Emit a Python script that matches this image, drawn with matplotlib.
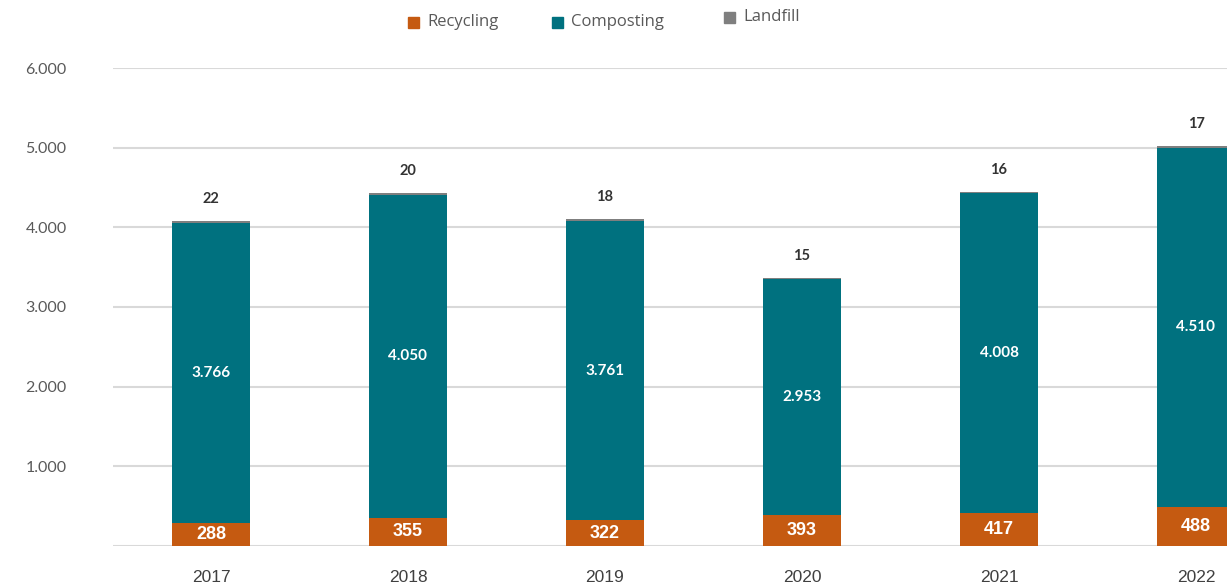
import matplotlib.pyplot as plt
from matplotlib.patches import Rectangle

years = ['2017', '2018', '2019', '2020', '2021', '2022']
recycling = [288, 355, 322, 393, 417, 488]
composting = [3766, 4050, 3761, 2953, 4008, 4510]
landfill = [22, 20, 18, 15, 16, 17]

c_rec = '#C55A11'
c_comp = '#00717F'
c_land = '#7F7F7F'


def fmt(v):
    # thousands separator with a dot
    return f"{v:,}".replace(',', '.')


fig = plt.figure(figsize=(12.27, 5.87), dpi=100)
# axes run past the right edge so the last bar is cut off
ax = fig.add_axes([112.5 / 1227, 41 / 587, 1182 / 1227, 478 / 587])

x = list(range(len(years)))
w = 0.4
bot2 = [r + c for r, c in zip(recycling, composting)]
ax.bar(x, recycling, w, color=c_rec, zorder=3)
ax.bar(x, composting, w, bottom=recycling, color=c_comp, zorder=3)
ax.bar(x, landfill, w, bottom=bot2, color=c_land, zorder=3)

for i in x:
    ax.text(i, recycling[i] / 2, fmt(recycling[i]), ha='center', va='center',
            color='white', fontsize=13, fontweight='bold',
            family='Liberation Sans', zorder=4)
    ax.text(i, recycling[i] + composting[i] / 2, fmt(composting[i]),
            ha='center', va='center', color='white', fontsize=11,
            fontweight='bold', family='Lato', zorder=4)
    ax.annotate(fmt(landfill[i]), (i, bot2[i] + landfill[i]),
                xytext=(0, 11), textcoords='offset points', ha='center',
                va='bottom', color='#333333', fontsize=10.5, fontweight='bold',
                family='Lato', annotation_clip=False)

ax.set_xlim(-0.5, 5.5)
ax.set_ylim(0, 6000)
ax.set_yticks(range(0, 6001, 1000))
ax.set_yticklabels([''] + [fmt(v) for v in range(1000, 6001, 1000)])
ax.set_xticks(x)
ax.set_xticklabels(years)
ax.yaxis.grid(True, color='#d9d9d9', linewidth=1.5, zorder=0)
ax.tick_params(length=0)
ax.tick_params(axis='y', pad=33, labelsize=11.5, labelcolor='#595959')
ax.tick_params(axis='x', pad=17, labelsize=12.5, labelcolor='#404040')
for lbl in ax.get_yticklabels():
    lbl.set_family('Lato')
for lbl in ax.get_xticklabels():
    lbl.set_family('Liberation Sans')
for s in ax.spines.values():
    s.set_visible(False)

# legend drawn along the top of the figure
legend_items = [('Recycling', c_rec, 408, 22), ('Composting', c_comp, 552, 22),
                ('Landfill', c_land, 724, 17)]
for name, col, px, py in legend_items:
    fig.patches.append(Rectangle((px / 1227, (587 - py - 6) / 587), 11 / 1227, 11 / 587,
                                 transform=fig.transFigure, color=col))
    fig.text((px + 19) / 1227, (587 - py) / 587, name, ha='left', va='center',
             fontsize=12, color='#595959', family='Open Sans')

fig.savefig('out.png', dpi=100)
